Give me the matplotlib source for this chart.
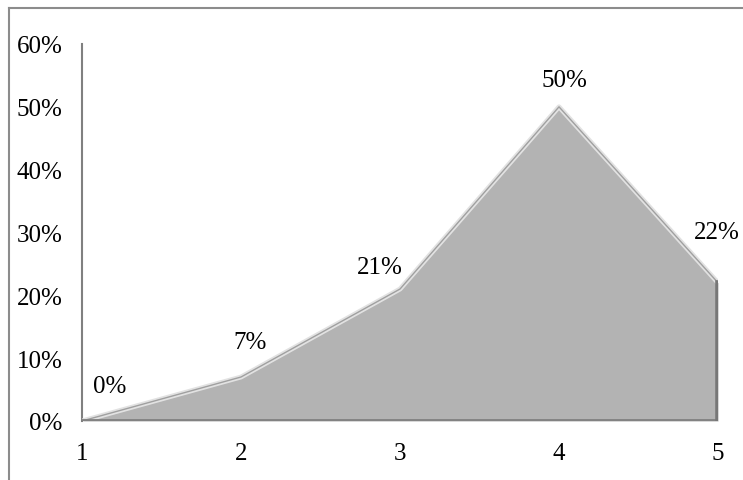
import matplotlib.pyplot as plt
from matplotlib.lines import Line2D

plt.rcParams['font.family'] = ['Liberation Serif', 'DejaVu Serif']

# data
x_vals = [1, 2, 3, 4, 5]
shares = [0.00, 0.07, 0.21, 0.50, 0.22]
point_labels = ['0%', '7%', '21%', '50%', '22%']
y_ticks = [0, 0.1, 0.2, 0.3, 0.4, 0.5, 0.6]
y_tick_labels = ['0%', '10%', '20%', '30%', '40%', '50%', '60%']

fig = plt.figure(figsize=(7.43, 4.81), dpi=100)
ax = fig.add_axes([82/743, 1 - 422/481, (718 - 82)/743, (422 - 45)/481])

# area with a bit of bevel look
ax.fill_between(x_vals, shares, 0, color='#b3b3b3', lw=0, zorder=2)
ax.plot(x_vals, shares, color='#e2e2e2', lw=3.5, solid_joinstyle='round', zorder=3)
ax.plot(x_vals, shares, color='#a0a0a0', lw=1.0, solid_joinstyle='round', zorder=4)
ax.plot([x_vals[0], x_vals[-1]], [0, 0], color='#828282', lw=3.5, zorder=4)
ax.plot([x_vals[-1], x_vals[-1]], [0, shares[-1]], color='#777777', lw=4, zorder=4)

# data labels (offsets in pixels from the point)
offsets = [(28, 35), (9, 35), (-20, 22), (5, 27), (-1, 51)]
for xv, yv, lab, off in zip(x_vals, shares, point_labels, offsets):
    ax.annotate(lab, (xv, yv), xytext=off, textcoords='offset pixels',
                ha='center', va='center', fontsize=18, color='black',
                zorder=5, annotation_clip=False)

ax.set_xlim(1, 5)
ax.set_ylim(0, 0.6)
ax.set_xticks(x_vals)
ax.set_xticklabels([str(v) for v in x_vals])
ax.set_yticks(y_ticks)
ax.set_yticklabels(y_tick_labels)
ax.tick_params(axis='both', length=0, labelsize=18)
ax.tick_params(axis='y', pad=14)
ax.tick_params(axis='x', pad=15)

for s in ['top', 'right', 'bottom']:
    ax.spines[s].set_visible(False)
ax.spines['left'].set_color('#808080')
ax.spines['left'].set_linewidth(1.5)
ax.patch.set_alpha(0)

# outer frame (only top and left show)
fig.add_artist(Line2D([9/743, 1], [1 - 9/481, 1 - 9/481], color='#8c8c8c', lw=1.5))
fig.add_artist(Line2D([9/743, 9/743], [0, 1 - 9/481], color='#8c8c8c', lw=1.5))

fig.savefig('out.png', dpi=100)
